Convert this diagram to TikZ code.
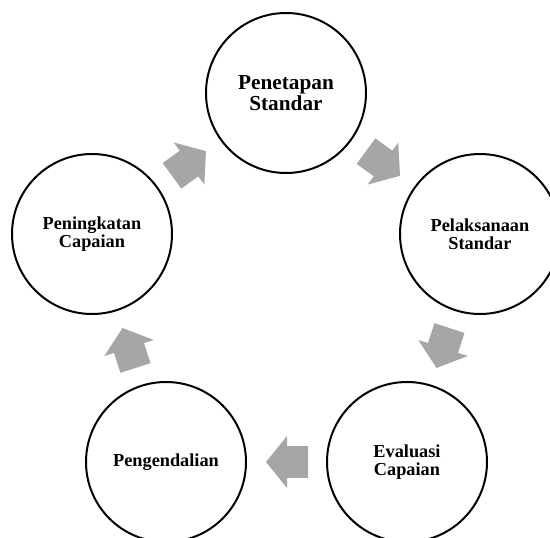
\documentclass[tikz,border=0pt]{standalone}
\usepackage{fontspec}
\setmainfont{Liberation Serif}
\definecolor{arrowgray}{HTML}{A6A6A6}
\tikzset{
  stage/.style={circle, draw=black, line width=2pt, minimum size=160pt, inner sep=0pt, align=center,
    font=\bfseries\fontsize{18.3}{18.3}\selectfont},
  bigstage/.style={stage, font=\bfseries\fontsize{21.3}{21.7}\selectfont},
  cyclearrow/.pic={\fill[arrowgray] (21,0) -- (0,26) -- (0,15.8) -- (-21,15.8) -- (-21,-15.8) -- (0,-15.8) -- (0,-26) -- cycle;}
}
\begin{document}
\begin{tikzpicture}[x=1pt,y=-1pt]
\useasboundingbox (0,0) rectangle (550,538);
\clip (0,0) rectangle (550,538);
\node[bigstage] (pen) at (286,93) {Penetapan\\Standar};
\node[stage] (pel) at (480,234) {Pelaksanaan\\Standar};
\node[stage] (eva) at (407,462) {Evaluasi\\Capaian};
\node[stage] (peng) at (166,462) {Pengendalian};
\node[stage] (pening) at (92,234) {Peningkatan\\Capaian};
\coordinate (a1) at (383,163.5);
\coordinate (a2) at (443,348);
\coordinate (a3) at (287,462);
\coordinate (a4) at (129,348);
\coordinate (a5) at (189,163.5);
\pic[rotate=-36] at (a1) {cyclearrow};
\pic[rotate=-108] at (a2) {cyclearrow};
\pic[rotate=180] at (a3) {cyclearrow};
\pic[rotate=108] at (a4) {cyclearrow};
\pic[rotate=36] at (a5) {cyclearrow};
\end{tikzpicture}
\end{document}
